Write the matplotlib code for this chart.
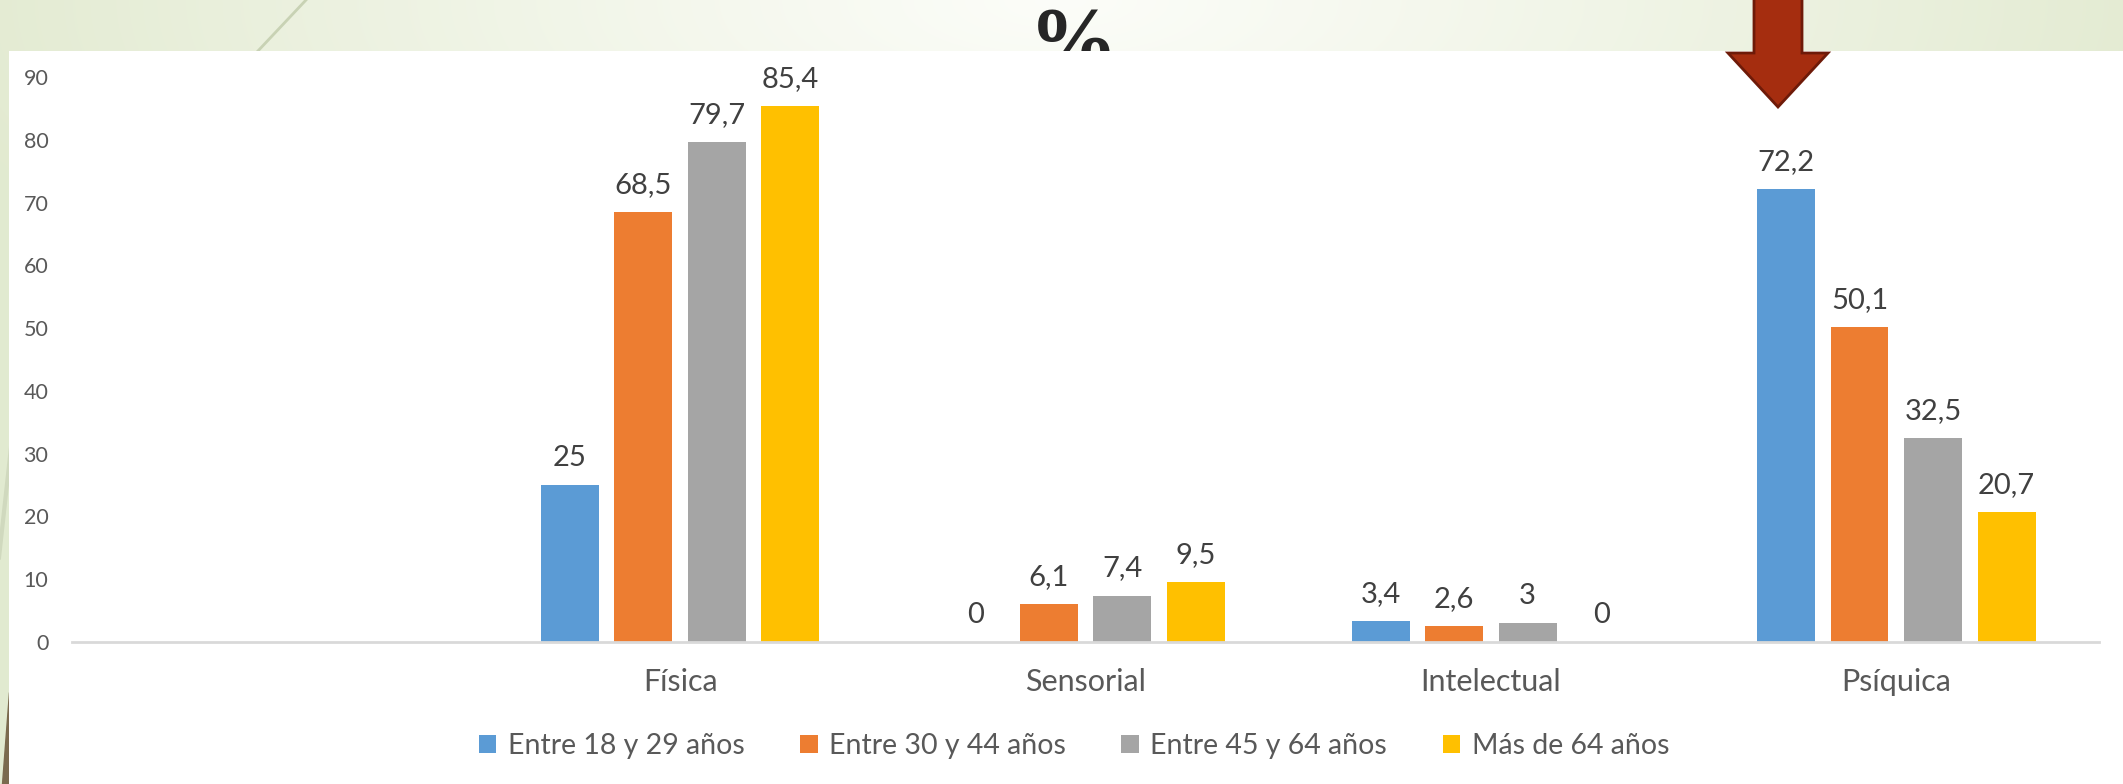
import numpy as np
import matplotlib
matplotlib.use('Agg')
import matplotlib.pyplot as plt
from matplotlib.patches import Rectangle, Polygon

# datos del grafico (%)
categorias = ['', 'Física', 'Sensorial', 'Intelectual', 'Psíquica']
series = ['Entre 18 y 29 años', 'Entre 30 y 44 años', 'Entre 45 y 64 años', 'Más de 64 años']
v_18_29 = [np.nan, 25, 0, 3.4, 72.2]
v_30_44 = [np.nan, 68.5, 6.1, 2.6, 50.1]
v_45_64 = [np.nan, 79.7, 7.4, 3, 32.5]
v_mas_64 = [np.nan, 85.4, 9.5, 0, 20.7]
datos = [v_18_29, v_30_44, v_45_64, v_mas_64]
colores = ['#5B9BD5', '#ED7D31', '#A5A5A5', '#FFC000']
yticks = list(range(0, 100, 10))

W, H = 2123, 784
fig = plt.figure(figsize=(W / 100, H / 100), dpi=100)

# fondo de la diapositiva (degradado verde claro)
bg = fig.add_axes([0, 0, 1, 1], zorder=-10)
yy, xx = np.mgrid[0:H, 0:W]
d = np.sqrt(((xx - 1060) / 1150.0) ** 2 + (yy / 420.0) ** 2)
d = np.clip(d, 0, 1)
light = np.array([0.988, 0.992, 0.975])
edge = np.array([0.886, 0.918, 0.816])
img = light + (edge - light) * (d[..., None] ** 1.1)
bg.imshow(img, extent=[0, W, H, 0], aspect='auto', zorder=0)
bg.set_xlim(0, W)
bg.set_ylim(H, 0)
bg.axis('off')

# lineas decorativas
bg.plot([306, 240], [0, 70], color='#C8D2B4', lw=2, zorder=1)
bg.plot([14, -10], [420, 640], color='#D0D9BE', lw=3, zorder=1)
bg.add_patch(Polygon([(2, H), (9, H), (9, 692)], closed=True, color='#7A6A4E', zorder=1))

# titulo cortado
bg.text(1073, 6, '%', family='Liberation Serif', weight='bold', fontsize=64,
        ha='center', va='top', color='#262626', zorder=2)

# panel blanco del grafico
bg.add_patch(Rectangle((9, 51), W - 9, H - 51, facecolor='white', edgecolor='none', zorder=3))

# flecha
flecha = [(1754, -4), (1802, -4), (1802, 53), (1828, 53), (1778, 107), (1728, 53), (1754, 53)]
bg.add_patch(Polygon(flecha, closed=True, facecolor='#A52D0F', edgecolor='#6E1A08',
                     lw=2, joinstyle='miter', zorder=4))

# grafico de barras
ax = fig.add_axes([72 / W, 1 - 642 / H, 2027 / W, 565 / H])
ax.set_facecolor('none')
x = np.arange(len(categorias))
ancho = 0.143
paso = 0.1815
for i, (nombre, vals, col) in enumerate(zip(series, datos, colores)):
    pos = x + (i - 1.5) * paso
    ax.bar(pos, vals, ancho, color=col, label=nombre, zorder=2)
    for xp, v in zip(pos, vals):
        if np.isnan(v):
            continue
        ax.annotate(f'{v:g}'.replace('.', ','), (xp, v), xytext=(0, 13.7),
                    textcoords='offset points', ha='center', va='baseline',
                    fontsize=21, color='#404040', family='Lato')

ax.set_xlim(-0.5, len(categorias) - 0.5)
ax.set_ylim(0, 90)
ax.set_yticks(yticks)
ax.set_xticks(x)
ax.set_xticklabels(categorias, family='Lato', fontsize=22, color='#595959')
for lbl in ax.get_yticklabels():
    lbl.set_family('Lato')
ax.tick_params(axis='y', length=0, pad=17, labelsize=15.5, labelcolor='#595959')
ax.tick_params(axis='x', length=0, pad=19)
for s in ['top', 'right', 'left']:
    ax.spines[s].set_visible(False)
ax.spines['bottom'].set_color('#D9D9D9')
ax.spines['bottom'].set_linewidth(2)
ax.spines['bottom'].set_zorder(3)

handles, labels = ax.get_legend_handles_labels()
fig.legend(handles, labels, loc='center', bbox_to_anchor=(1074 / W, 1 - 746 / H),
           ncol=4, frameon=False, prop={'family': 'Lato', 'size': 20.5},
           labelcolor='#595959', handlelength=0.62, handleheight=0.62,
           handletextpad=0.4, columnspacing=1.95)

fig.savefig('out.png', dpi=100)
